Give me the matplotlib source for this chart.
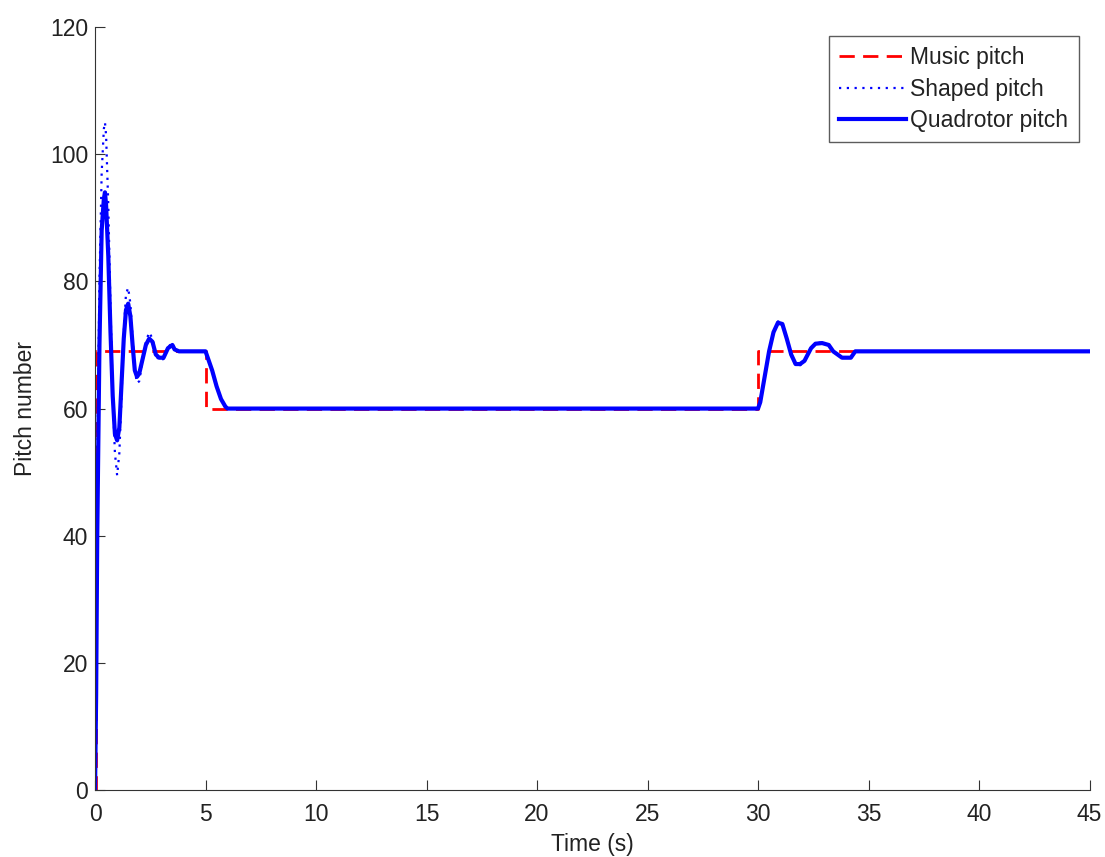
import matplotlib
matplotlib.use('Agg')
import matplotlib.pyplot as plt

plt.rcParams['font.family'] = ['Liberation Sans', 'DejaVu Sans']

# music pitch (step reference)
music_t = [0.0, 0.05, 0.05, 5.0, 5.0, 30.0, 30.0, 45.0]
music_y = [0, 0, 69, 69, 60, 60, 69, 69]

# quadrotor pitch
quad_t = [0.0, 0.05, 0.1, 0.2, 0.3, 0.4, 0.45, 0.5, 0.6, 0.7, 0.8, 0.9, 1.0,
          1.1, 1.2, 1.3, 1.4, 1.5, 1.6, 1.7, 1.8, 1.9, 2.0, 2.1, 2.3, 2.45,
          2.6, 2.75, 2.9, 3.1, 3.3, 3.5, 3.6, 3.8, 5.0, 5.1, 5.3, 5.5, 5.7,
          5.9, 6.0, 30.0, 30.1, 30.3, 30.5, 30.7, 30.9, 31.1, 31.3, 31.5,
          31.7, 31.9, 32.1, 32.4, 32.6, 32.9, 33.2, 33.4, 33.6, 33.8, 34.2,
          34.4, 45.0]
quad_y = [0, 15, 40, 70, 88, 93, 94, 92, 84, 72, 62, 56, 55,
          57, 64, 71, 75.5, 76.5, 74.5, 70, 66, 65, 65.5, 67, 70, 71,
          70.5, 68.5, 68, 68, 69.5, 70, 69.3, 69, 69, 68, 66, 63.5, 61.5,
          60.3, 60, 60, 61, 65, 69, 72, 73.5, 73.3, 71, 68.5,
          67, 67, 67.5, 69.5, 70.2, 70.3, 70, 69, 68.5, 68, 68,
          69, 69]

# shaped pitch (larger swings at the start)
shaped_t = [0.0, 0.05, 0.1, 0.2, 0.3, 0.4, 0.45, 0.5, 0.6, 0.7, 0.8, 0.9, 1.0,
            1.1, 1.2, 1.3, 1.4, 1.5, 1.6, 1.7, 1.8, 1.9, 2.0, 2.1, 2.3, 2.45,
            2.6, 2.75, 2.9, 3.1, 3.3, 3.5, 3.6, 3.8, 5.0, 5.1, 5.3, 5.5, 5.7,
            5.9, 6.0, 30.0, 30.1, 30.3, 30.5, 30.7, 30.9, 31.1, 31.3, 31.5,
            31.7, 31.9, 32.1, 32.4, 32.6, 32.9, 33.2, 33.4, 33.6, 33.8, 34.2,
            34.4, 45.0]
shaped_y = [0, 20, 50, 80, 97, 104, 105, 103, 92, 76, 62, 53, 49.5,
            53, 62, 72, 78, 79, 76.5, 71, 66, 64, 64.3, 66.5, 70.5, 72,
            71, 68.5, 67.5, 67.8, 69.7, 70.3, 69.4, 69, 69, 68, 66, 63.5, 61.5,
            60.3, 60, 60, 61, 65, 69, 72, 73.7, 73.5, 71, 68.3,
            66.8, 66.8, 67.4, 69.6, 70.3, 70.4, 70, 69, 68.5, 68, 68,
            69, 69]

fig = plt.figure(figsize=(11.05, 8.57), dpi=100)
ax = fig.add_axes([0.086, 0.078, 0.9, 0.8905])

ax.plot(music_t, music_y, color='red', ls=(0, (5.5, 3)), lw=2, label='Music pitch')
ax.plot(shaped_t, shaped_y, color='blue', ls=(0, (1, 2.5)), lw=1.6, label='Shaped pitch')
ax.plot(quad_t, quad_y, color='blue', ls='-', lw=3, label='Quadrotor pitch')

ax.set_xlim(0, 45)
ax.set_ylim(0, 120)
ax.set_xticks(range(0, 46, 5))
ax.set_yticks(range(0, 121, 20))
ax.tick_params(direction='in', length=7, labelsize=16.5, color='#333333',
               labelcolor='#222222')
ax.tick_params(axis='x', pad=9)
ax.tick_params(axis='y', pad=5)
ax.spines['top'].set_visible(False)
ax.spines['right'].set_visible(False)
ax.spines['left'].set_color('#333333')
ax.spines['bottom'].set_color('#333333')
ax.set_xlabel('Time (s)', fontsize=16.5, labelpad=5, color='#222222')
ax.set_ylabel('Pitch number', fontsize=16.5, labelpad=9, color='#222222')

leg = ax.legend(loc='upper right', fontsize=16.5, frameon=True, fancybox=False,
                edgecolor='#333333', handlelength=2.9, handletextpad=0.2,
                borderpad=0.45, labelspacing=0.36, borderaxespad=0,
                bbox_to_anchor=(0.989, 0.988))
leg.get_frame().set_linewidth(1.0)
for t in leg.get_texts():
    t.set_color('#222222')

plt.savefig('out.png')
